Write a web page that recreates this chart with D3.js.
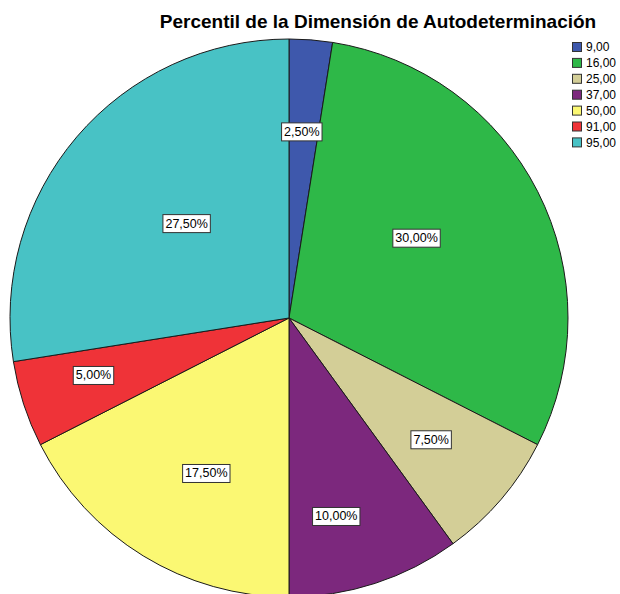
<!DOCTYPE html>
<html>
<head>
<meta charset="utf-8">
<script src="https://cdn.jsdelivr.net/npm/d3@7"></script>
<style>
  html, body { margin: 0; padding: 0; background: #fff; }
  svg { display: block; font-family: "Liberation Sans", Arial, sans-serif; }
</style>
</head>
<body>
<div id="chart"></div>
<script>
// datos del gráfico
const categories = ["9,00", "16,00", "25,00", "37,00", "50,00", "91,00", "95,00"];
const percents = [2.5, 30.0, 7.5, 10.0, 17.5, 5.0, 27.5];
const percentLabels = ["2,50%", "30,00%", "7,50%", "10,00%", "17,50%", "5,00%", "27,50%"];
const colors = ["#3E58AC", "#2EB848", "#D3CE97", "#7C287D", "#FBF873", "#EF3338", "#48C2C5"];

// posición radial de cada etiqueta (fracción del radio) y desplazamiento angular (rad)
const labelRadius = [0.67, 0.54, 0.67, 0.73, 0.63, 0.73, 0.5];
const labelShift = [-0.01, -0.09, 0, 0.08, -0.06, 0.03, 0.04];

const width = 620, height = 594;
const cx = 289, cy = 318, radius = 279;

const svg = d3.select("#chart").append("svg")
    .attr("width", width)
    .attr("height", height);

// título
svg.append("text")
    .attr("x", 378)
    .attr("y", 28)
    .attr("text-anchor", "middle")
    .attr("font-size", "19px")
    .attr("font-weight", "bold")
    .attr("fill", "#000")
    .text("Percentil de la Dimensión de Autodeterminación");

const pie = d3.pie()
    .value(d => d)
    .sort(null);

const arcs = pie(percents);

const arc = d3.arc()
    .innerRadius(0)
    .outerRadius(radius);

const g = svg.append("g")
    .attr("transform", `translate(${cx},${cy})`);

g.selectAll("path")
    .data(arcs)
    .enter()
    .append("path")
    .attr("d", arc)
    .attr("fill", (d, i) => colors[i])
    .attr("stroke", "#1a1a1a")
    .attr("stroke-width", 1)
    .attr("stroke-linejoin", "round");

// etiquetas con recuadro
const labels = g.selectAll("g.lbl")
    .data(arcs)
    .enter()
    .append("g")
    .attr("class", "lbl")
    .attr("transform", (d, i) => {
        const a = (d.startAngle + d.endAngle) / 2 + labelShift[i];
        const r = radius * labelRadius[i];
        return `translate(${r * Math.sin(a)},${-r * Math.cos(a)})`;
    });

labels.append("text")
    .attr("text-anchor", "middle")
    .attr("dy", "0.35em")
    .attr("font-size", "12.5px")
    .attr("fill", "#000")
    .text((d, i) => percentLabels[i]);

labels.each(function() {
    const grp = d3.select(this);
    const bb = grp.select("text").node().getBBox();
    grp.insert("rect", "text")
        .attr("x", bb.x - 2.5)
        .attr("y", bb.y - 2)
        .attr("width", bb.width + 5)
        .attr("height", bb.height + 4)
        .attr("fill", "#fff")
        .attr("stroke", "#333")
        .attr("stroke-width", 1);
});

// leyenda
const legend = svg.append("g")
    .attr("transform", "translate(572,42)");

const items = legend.selectAll("g")
    .data(categories)
    .enter()
    .append("g")
    .attr("transform", (d, i) => `translate(0,${i * 15.9})`);

items.append("rect")
    .attr("x", 0.5)
    .attr("y", 0.5)
    .attr("width", 9)
    .attr("height", 9)
    .attr("fill", (d, i) => colors[i])
    .attr("stroke", "#333")
    .attr("stroke-width", 1);

items.append("text")
    .attr("x", 14)
    .attr("y", 5)
    .attr("dy", "0.35em")
    .attr("font-size", "12px")
    .attr("fill", "#000")
    .text(d => d);
</script>
</body>
</html>
